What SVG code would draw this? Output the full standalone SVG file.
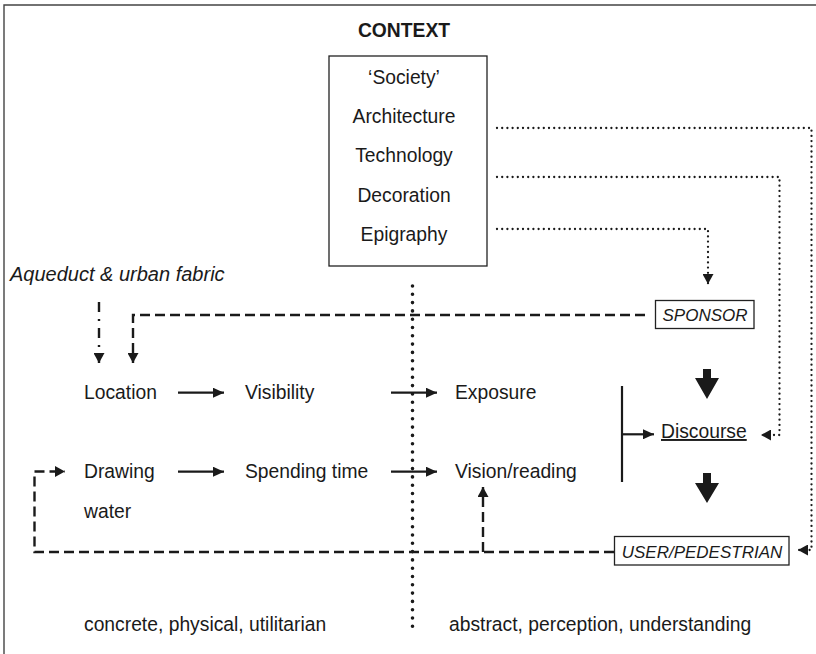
<svg xmlns="http://www.w3.org/2000/svg" width="816" height="654" viewBox="0 0 816 654">
<style>
text{font-family:"Liberation Sans",Arial,sans-serif;font-size:19.3px;fill:#1a1a1a}
.b{font-weight:bold}
.i{font-style:italic}
.a{font-size:20px}
.s{font-size:17px}
.c{text-anchor:middle}
.frame{fill:none;stroke:#444;stroke-width:1.4}
.box{fill:#fff;stroke:#222;stroke-width:1.3}
.solid{fill:none;stroke:#1a1a1a;stroke-width:2.2}
.dash{fill:none;stroke:#1a1a1a;stroke-width:2.4;stroke-dasharray:10 5}
.dashdot{fill:none;stroke:#1a1a1a;stroke-width:2.4;stroke-dasharray:10 7 2 7}
.dot{fill:none;stroke:#1a1a1a;stroke-width:2.3;stroke-linecap:round;stroke-dasharray:0 5.2}
.div{fill:none;stroke:#1a1a1a;stroke-width:3.6;stroke-linecap:round;stroke-dasharray:0 8.3}
.big{fill:#1a1a1a}
</style>
<defs>
<marker id="ah" markerUnits="userSpaceOnUse" markerWidth="12" markerHeight="10" refX="11" refY="5" orient="auto"><path d="M0,0 L11,5 L0,10 z" fill="#1a1a1a"/></marker>
<marker id="ahs" markerUnits="userSpaceOnUse" markerWidth="11" markerHeight="11" refX="10" refY="5.5" orient="auto"><path d="M0,0 L10,5.5 L0,11 z" fill="#1a1a1a"/></marker>
</defs>
<rect width="816" height="654" fill="#fff"/>
<path class="frame" d="M4,654 V5 H816"/>

<g id="context-title"><text class="b c" x="404" y="37">CONTEXT</text></g>
<g id="context">
<rect class="box" x="329" y="56" width="158" height="210"/>
<text class="c" x="404" y="84">‘Society’</text>
<text class="c" x="404" y="123">Architecture</text>
<text class="c" x="404" y="162">Technology</text>
<text class="c" x="404" y="202">Decoration</text>
<text class="c" x="404" y="241">Epigraphy</text>
</g>
<g id="aqueduct"><text class="i a" x="10" y="281">Aqueduct &amp; urban fabric</text></g>
<g id="sponsor"><rect class="box" x="655.5" y="300.5" width="98.5" height="28"/><text class="i s c" x="705" y="321">SPONSOR</text></g>
<g id="user"><rect class="box" x="614.5" y="536.5" width="174.5" height="28.5"/><text class="i s c" x="702" y="558">USER/PEDESTRIAN</text></g>
<g id="location"><text x="84" y="399">Location</text></g>
<g id="visibility"><text x="245" y="399">Visibility</text></g>
<g id="exposure"><text x="455" y="399">Exposure</text></g>
<g id="drawing"><text x="84" y="478">Drawing</text><text x="84" y="518">water</text></g>
<g id="spending"><text x="245" y="478">Spending time</text></g>
<g id="vision"><text x="455" y="478">Vision/reading</text></g>
<g id="discourse"><text x="661" y="438" text-decoration="underline">Discourse</text></g>
<g id="labels">
<text x="84" y="631">concrete, physical, utilitarian</text>
<text x="449" y="631">abstract, perception, understanding</text>
</g>

<g id="connectors">
<path class="div" d="M412.5,286 V627"/>
<path class="dot" d="M497,128 H811.5 V550 H798" marker-end="url(#ahs)"/>
<path class="dot" d="M497,177 H779.5 V435 H761" marker-end="url(#ahs)"/>
<path class="dot" d="M497,229 H708 V284" marker-end="url(#ahs)"/>
<path class="dashdot" d="M99,302 V363" marker-end="url(#ahs)"/>
<path class="dash" d="M645,315 H133 V363" marker-end="url(#ahs)"/>
<path class="dash" d="M614,552 H34.5 V471.5 H65" marker-end="url(#ahs)"/>
<path class="dash" d="M483,552 V487" marker-end="url(#ahs)"/>
<path class="solid" d="M178,392.7 H224" marker-end="url(#ah)"/>
<path class="solid" d="M391,392.7 H437" marker-end="url(#ah)"/>
<path class="solid" d="M178,471.7 H224" marker-end="url(#ah)"/>
<path class="solid" d="M391,471.7 H437" marker-end="url(#ah)"/>
<path class="solid" d="M622,386 V482"/>
<path class="solid" d="M622,434.3 H654" marker-end="url(#ah)"/>
<path class="big" d="M703,369 H711 V378 H719 L707,399 L695,378 H703 Z"/>
<path class="big" d="M703,473 H711 V483 H719 L707,503 L695,483 H703 Z"/>
</g>
</svg>
